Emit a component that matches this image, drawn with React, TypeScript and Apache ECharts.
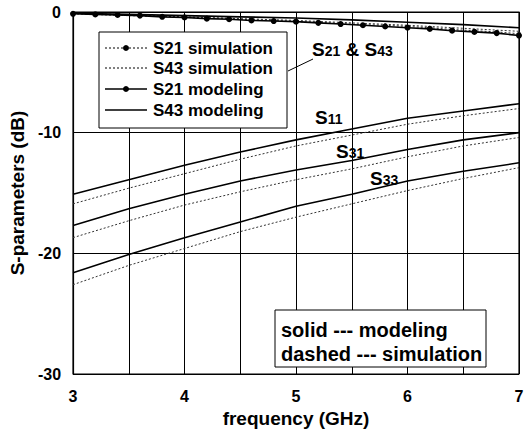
import React, { useEffect, useRef } from "react";
import * as echarts from "echarts";

const freqFine = [3.0, 3.2, 3.4, 3.6, 3.8, 4.0, 4.2, 4.4, 4.6, 4.8, 5.0, 5.2, 5.4, 5.6, 5.8, 6.0, 6.2, 6.4, 6.6, 6.8, 7.0];
const freq = [3.0, 3.5, 4.0, 4.5, 5.0, 5.5, 6.0, 6.5, 7.0];

const s21Model = [-0.15, -0.2, -0.25, -0.3, -0.4, -0.45, -0.55, -0.6, -0.7, -0.75, -0.8, -0.9, -1.0, -1.1, -1.2, -1.3, -1.4, -1.55, -1.65, -1.75, -1.95];
const s21Sim = [-0.1, -0.15, -0.2, -0.3, -0.35, -0.45, -0.5, -0.55, -0.65, -0.7, -0.8, -0.85, -0.95, -1.05, -1.1, -1.2, -1.3, -1.45, -1.55, -1.65, -1.8];
const s43Model = [-0.1, -0.2, -0.3, -0.4, -0.5, -0.65, -0.85, -1.05, -1.3];
const s43Sim = [-0.15, -0.3, -0.4, -0.55, -0.7, -0.9, -1.1, -1.35, -1.6];

const s11Model = [-15.1, -13.9, -12.7, -11.6, -10.6, -9.7, -8.8, -8.2, -7.6];
const s11Sim = [-15.9, -14.6, -13.4, -12.2, -11.1, -10.2, -9.3, -8.6, -8.0];
const s31Model = [-17.7, -16.3, -15.1, -14.0, -13.1, -12.3, -11.4, -10.6, -10.0];
const s31Sim = [-18.7, -17.3, -16.0, -14.9, -13.9, -13.0, -12.0, -11.1, -10.4];
const s33Model = [-21.6, -20.1, -18.7, -17.4, -16.1, -15.1, -14.0, -13.2, -12.5];
const s33Sim = [-22.6, -21.0, -19.6, -18.2, -17.0, -15.9, -14.8, -13.8, -12.9];

const xTickLabels = [3, 4, 5, 6, 7];
const legendNames = ["S21 simulation", "S43 simulation", "S21 modeling", "S43 modeling"];
const noteLines = ["solid --- modeling", "dashed --- simulation"];

const FONT = "'Liberation Sans', Arial, sans-serif";

const pair = (xs: number[], ys: number[]) => xs.map((x, i) => [x, ys[i]]);

export default function App() {
  const ref = useRef<HTMLDivElement>(null);
  useEffect(() => {
    document.body.style.margin = "0";
    const chart = echarts.init(ref.current!, null, { renderer: "svg" });
    const solid = (name: string, xs: number[], ys: number[], marker = false) => ({
      name,
      type: "line",
      data: pair(xs, ys),
      showSymbol: marker,
      symbol: "circle",
      symbolSize: 6,
      itemStyle: { color: "#000" },
      lineStyle: { color: "#000", width: 1.6, type: "solid" },
      z: 3,
    });
    const dashed = (name: string, xs: number[], ys: number[], marker = false) => ({
      name,
      type: "line",
      data: pair(xs, ys),
      showSymbol: marker,
      symbol: "circle",
      symbolSize: 4,
      itemStyle: { color: "#222" },
      lineStyle: { color: "#333", width: 1, type: [2, 2] },
      z: 2,
    });
    const legendRows = [48, 68, 89, 110];
    const legendGraphics: any[] = [
      { type: "rect", shape: { x: 99, y: 32, width: 188, height: 96 }, style: { fill: "#fff", stroke: "#000", lineWidth: 1 }, z: 20 },
    ];
    legendNames.forEach((n, i) => {
      const y = legendRows[i];
      const isDash = i < 2;
      legendGraphics.push({
        type: "line",
        shape: { x1: 105, y1: y, x2: 147, y2: y },
        style: { stroke: "#000", lineWidth: isDash ? 1 : 1.5, lineDash: isDash ? [2, 2] : null },
        z: 21,
      });
      if (i === 0 || i === 2) {
        legendGraphics.push({ type: "circle", shape: { cx: 126, cy: y, r: 3 }, style: { fill: "#000" }, z: 21 });
      }
      legendGraphics.push({
        type: "text",
        x: 153,
        y,
        style: { text: n, font: `bold 17px ${FONT}`, fill: "#000", textVerticalAlign: "middle" },
        z: 21,
      });
    });
    const richS = {
      s: { font: `bold 19px ${FONT}`, fill: "#000" },
      n: { font: `bold 14px ${FONT}`, fill: "#000", padding: [3, 0, 0, 0] },
    };
    const label = (text: string, x: number, y: number) => ({
      type: "text",
      x,
      y,
      style: { text, rich: richS, textVerticalAlign: "middle", fill: "#000" },
      z: 21,
    });
    chart.setOption({
      animation: false,
      grid: { left: 73, right: 8, top: 12, bottom: 59, show: true, borderColor: "#000", borderWidth: 1.2, backgroundColor: "transparent" },
      xAxis: {
        type: "value",
        min: 3,
        max: 7,
        interval: 0.5,
        name: "frequency (GHz)",
        nameLocation: "middle",
        nameGap: 35,
        nameTextStyle: { fontSize: 19, fontWeight: "bold", fontFamily: FONT, color: "#000" },
        axisLine: { show: true, lineStyle: { color: "#000", width: 1.2 } },
        axisTick: { show: false },
        axisLabel: {
          margin: 14,
          fontSize: 16,
          fontWeight: "bold",
          fontFamily: FONT,
          color: "#000",
          formatter: (v: number) => (xTickLabels.includes(v) ? String(v) : ""),
        },
        splitLine: { show: true, lineStyle: { color: "#000", width: 1 } },
      },
      yAxis: {
        type: "value",
        min: -30,
        max: 0,
        interval: 10,
        name: "S-parameters (dB)",
        nameLocation: "middle",
        nameGap: 41,
        nameTextStyle: { fontSize: 19, fontWeight: "bold", fontFamily: FONT, color: "#000" },
        axisLine: { show: true, lineStyle: { color: "#000", width: 1.2 } },
        axisTick: { show: false },
        axisLabel: { margin: 12, fontSize: 16, fontWeight: "bold", fontFamily: FONT, color: "#000" },
        splitLine: { show: true, lineStyle: { color: "#000", width: 1 } },
      },
      series: [
        dashed("S21 simulation", freqFine, s21Sim, true),
        dashed("S43 simulation", freq, s43Sim),
        solid("S21 modeling", freqFine, s21Model, true),
        solid("S43 modeling", freq, s43Model),
        solid("S11 modeling", freq, s11Model),
        dashed("S11 simulation", freq, s11Sim),
        solid("S31 modeling", freq, s31Model),
        dashed("S31 simulation", freq, s31Sim),
        solid("S33 modeling", freq, s33Model),
        dashed("S33 simulation", freq, s33Sim),
      ],
      graphic: [
        ...legendGraphics,
        { type: "line", shape: { x1: 288, y1: 71, x2: 313, y2: 59 }, style: { stroke: "#000", lineWidth: 1 }, z: 21 },
        label("{s|S}{n|21}{s| & S}{n|43}", 312, 49),
        label("{s|S}{n|11}", 315, 117),
        label("{s|S}{n|31}", 336, 151),
        label("{s|S}{n|33}", 370, 178),
        { type: "rect", shape: { x: 275, y: 310, width: 211, height: 57 }, style: { fill: "#fff", stroke: "#000", lineWidth: 1 }, z: 20 },
        ...noteLines.map((t, i) => ({
          type: "text",
          x: 281,
          y: 330 + i * 24,
          style: { text: t, font: `bold 20px ${FONT}`, fill: "#000", textVerticalAlign: "middle" },
          z: 21,
        })),
      ],
    });
    return () => chart.dispose();
  }, []);
  return <div ref={ref} style={{ width: 527, height: 433 }} />;
}
